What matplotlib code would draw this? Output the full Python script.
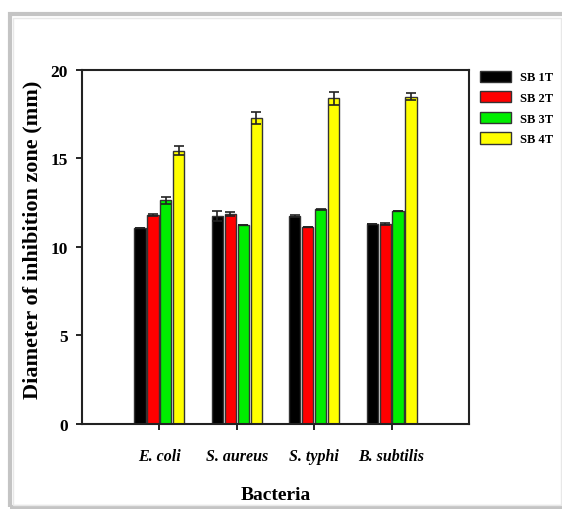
import numpy as np
import matplotlib.pyplot as plt
from matplotlib.patches import Rectangle

bacteria = ["E. coli", "S. aureus", "S. typhi", "B. subtilis"]
samples = ["SB 1T", "SB 2T", "SB 3T", "SB 4T"]
colors = ["black", "red", "#00ee00", "yellow"]

sb1 = [11.1, 11.75, 11.75, 11.3]
sb2 = [11.8, 11.85, 11.12, 11.3]
sb3 = [12.65, 11.25, 12.12, 12.05]
sb4 = [15.45, 17.3, 18.4, 18.5]
err1 = [0.0, 0.3, 0.05, 0.0]
err2 = [0.05, 0.1, 0.0, 0.05]
err3 = [0.2, 0.0, 0.05, 0.0]
err4 = [0.25, 0.35, 0.35, 0.2]

values = [sb1, sb2, sb3, sb4]
errors = [err1, err2, err3, err4]

plt.rcParams["font.family"] = ["Liberation Serif", "DejaVu Serif"]
plt.rcParams["font.weight"] = "bold"

fig = plt.figure(figsize=(5.62, 5.10), dpi=100)
# outer frame with soft shadow
fig.patches.append(Rectangle((0.017, 0.004), 0.985, 0.966, transform=fig.transFigure,
                             fill=False, edgecolor="#c4c4c4", linewidth=3, zorder=0))
fig.patches.append(Rectangle((0.023, 0.008), 0.975, 0.955, transform=fig.transFigure,
                             fill=False, edgecolor="#e8e8e8", linewidth=1, zorder=0))

ax = fig.add_axes([0.1459, 0.1667, 0.6886, 0.6941])
x = np.arange(1, len(bacteria) + 1)
step = 0.167
width = 0.145
for i in range(4):
    pos = x + (i - 1.5) * step
    ax.bar(pos, values[i], width=width, color=colors[i], edgecolor="#333333",
           linewidth=1.0, label=samples[i], zorder=2)
    ax.errorbar(pos, values[i], yerr=errors[i], fmt="none", ecolor="#222222",
                elinewidth=1.2, capsize=3.5, capthick=1.2, zorder=3)

ax.set_xlim(0, 5)
ax.set_ylim(0, 20)
ax.set_yticks([0, 5, 10, 15, 20])
ax.set_xticks(x)
ax.set_xticklabels(bacteria, style="italic", fontsize=11.5)
ax.tick_params(axis="y", labelsize=12.5, direction="out", length=4, width=1.2, pad=6)
ax.tick_params(axis="x", direction="out", length=4, width=1.2, pad=13)
for s in ax.spines.values():
    s.set_linewidth(1.5)
    s.set_color("#222222")

ax.set_xlabel("Bacteria", fontsize=14, fontweight="bold", labelpad=16)
ax.set_ylabel("Diameter of inhibition zone (mm)", fontsize=16, fontweight="bold")
ax.yaxis.set_label_coords(-0.102, 0.523)

ax.legend(loc="upper left", bbox_to_anchor=(1.0, 1.03), frameon=False, fontsize=9,
          handlelength=2.5, handleheight=1.0, labelspacing=0.62, handletextpad=0.7)

fig.savefig("out.png", dpi=100)
